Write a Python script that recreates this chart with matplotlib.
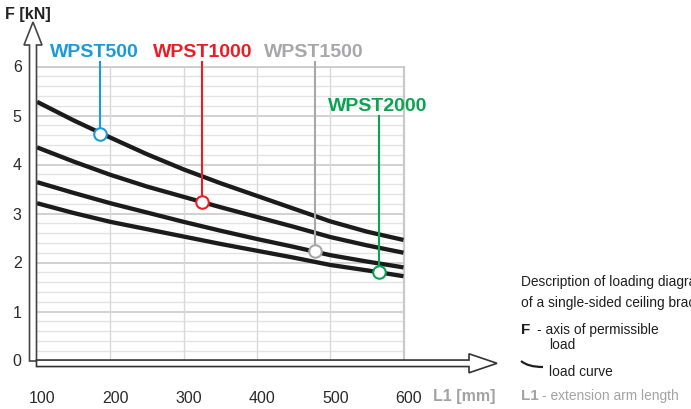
import matplotlib
matplotlib.use("Agg")
import matplotlib.pyplot as plt
from matplotlib.patches import FancyArrow, PathPatch
from matplotlib.path import Path
from matplotlib.transforms import IdentityTransform, ScaledTranslation

plt.rcParams['font.family'] = ['Liberation Sans', 'DejaVu Sans']

# load curves (F in kN vs arm length L1 in mm)
arm_length = [100, 150, 200, 250, 300, 350, 400, 450, 500, 550, 600]
curve_a = [5.28, 4.90, 4.55, 4.21, 3.90, 3.62, 3.36, 3.10, 2.84, 2.63, 2.46]
curve_b = [4.35, 4.06, 3.79, 3.55, 3.34, 3.13, 2.93, 2.73, 2.52, 2.35, 2.20]
curve_c = [3.64, 3.42, 3.21, 3.02, 2.83, 2.65, 2.48, 2.32, 2.15, 2.02, 1.90]
curve_d = [3.21, 3.01, 2.83, 2.68, 2.53, 2.38, 2.24, 2.10, 1.95, 1.84, 1.72]

# model markers sitting on the curves
models = ["WPST500", "WPST1000", "WPST1500", "WPST2000"]
model_x = [186, 325, 479, 566]
model_y = [4.62, 3.24, 2.24, 1.80]
model_colors = ["#1c9ad8", "#ec1c24", "#a7a7a9", "#0aa34f"]
label_x = [178, 326, 478, 565]
label_y = [6.28, 6.28, 6.28, 5.18]

x_ticks = [100, 200, 300, 400, 500, 600]
y_ticks = [0, 1, 2, 3, 4, 5, 6]

W, H = 691, 409
fig = plt.figure(figsize=(W / 100, H / 100), dpi=100)
ax = fig.add_axes([37 / W, (H - 360.5) / H, 366.5 / W, 294 / H])
ax.set_xlim(100, 600)
ax.set_ylim(0, 6)

# grid
for i in range(31):
    v = i * 0.2
    major = i % 5 == 0
    ax.axhline(v, color="#c9c9c9" if major else "#e3e3e3", lw=1.2 if major else 1.0, zorder=0)
for v in x_ticks[1:]:
    ax.axvline(v, color="#d9d9d9", lw=1.0, zorder=0)
for s in ["left", "bottom"]:
    ax.spines[s].set_visible(False)
ax.spines["right"].set_color("#c9c9c9")
ax.spines["right"].set_linewidth(1.6)
ax.spines["top"].set_color("#c9c9c9")
ax.spines["top"].set_linewidth(1.2)

for ys in [curve_a, curve_b, curve_c, curve_d]:
    ax.plot(arm_length, ys, color="#1b1b1b", lw=3.1, solid_capstyle="butt",
            solid_joinstyle="round", zorder=3)

for name, mx, my, c, lx, ly in zip(models, model_x, model_y, model_colors, label_x, label_y):
    ax.plot([mx, mx], [my, ly - 0.19], color=c, lw=1.5, zorder=4, clip_on=False)
    ax.plot(mx, my, "o", ms=9, mfc="white", mec=c, mew=1.5, zorder=5, clip_on=False)
    ax.text(lx, ly, name, color=c, fontsize=14, fontweight="bold",
            ha="center", va="center", clip_on=False)

ax.set_xticks(x_ticks)
ax.set_yticks(y_ticks)
ax.tick_params(axis="x", length=0, pad=22, labelsize=11.5, labelcolor="#2a2a2a")
ax.tick_params(axis="y", length=0, pad=11, labelsize=11.5, labelcolor="#2a2a2a")
shift = ScaledTranslation(5 / 100, 0, fig.dpi_scale_trans)
for lab in ax.get_xticklabels():
    lab.set_transform(lab.get_transform() + shift)

# hollow axis arrows (pixel coordinates, y measured from bottom)
ya = FancyArrow(33, H - 361, 0, 361 - 22, width=7, head_width=18, head_length=23,
                length_includes_head=True, transform=IdentityTransform(),
                fc="white", ec="#444444", lw=1.2, zorder=10)
xa = FancyArrow(36.5, H - 363.3, 497 - 36.5, 0, width=6.5, head_width=19, head_length=28,
                length_includes_head=True, transform=IdentityTransform(),
                fc="white", ec="#333333", lw=1.2, zorder=10)
fig.add_artist(ya)
fig.add_artist(xa)


def px(x, y):
    return x / W, 1 - y / H


fig.text(*px(28, 14), "F [kN]", fontsize=11.5, fontweight="bold", color="#222222",
         ha="center", va="center")
fig.text(*px(433, 396), "L1 [mm]", fontsize=11.5, fontweight="bold", color="#a3a3a3",
         ha="left", va="center")

# description block
desc_size = 9.9
fig.text(*px(521, 282), "Description of loading diagram", fontsize=desc_size,
         color="#1e1e1e", ha="left", va="center")
fig.text(*px(521, 303), "of a single-sided ceiling bracket", fontsize=desc_size,
         color="#1e1e1e", ha="left", va="center")
fig.text(*px(521, 330), "F", fontsize=11, fontweight="bold",
         color="#1e1e1e", ha="left", va="center")
fig.text(*px(537, 330), "- axis of permissible", fontsize=desc_size,
         color="#1e1e1e", ha="left", va="center")
fig.text(*px(549, 345), "load", fontsize=desc_size, color="#1e1e1e", ha="left", va="center")
arc = Path([(521, H - 361), (528, H - 367), (543, H - 367)],
           [Path.MOVETO, Path.CURVE3, Path.CURVE3])
fig.add_artist(PathPatch(arc, fill=False, ec="#1e1e1e", lw=1.6, transform=IdentityTransform()))
fig.text(*px(549, 372), "load curve", fontsize=desc_size, color="#1e1e1e",
         ha="left", va="center")
fig.text(*px(521, 396), "L1", fontsize=11, fontweight="bold",
         color="#a3a3a3", ha="left", va="center")
fig.text(*px(542, 396), "- extension arm length", fontsize=desc_size,
         color="#a3a3a3", ha="left", va="center")

fig.savefig("out.png", dpi=100)
